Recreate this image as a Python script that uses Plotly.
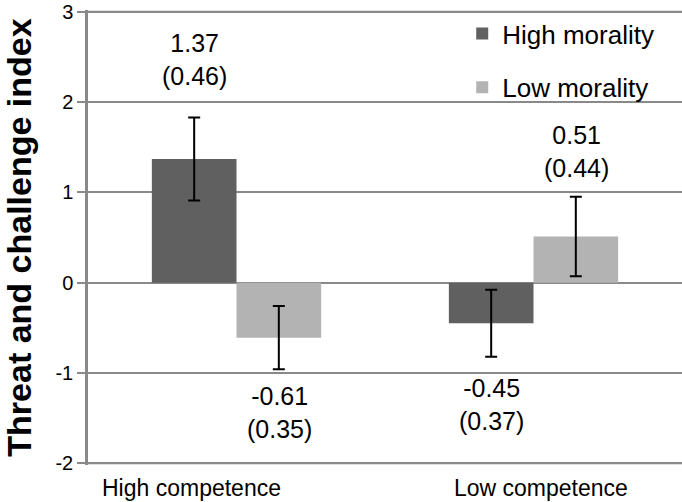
import plotly.graph_objects as go

categories = ["High competence", "Low competence"]
series_names = ["High morality", "Low morality"]
high_morality = [1.37, -0.45]
low_morality = [-0.61, 0.51]
high_morality_se = [0.46, 0.37]
low_morality_se = [0.35, 0.44]
y_ticks = [-2, -1, 0, 1, 2, 3]
y_tick_labels = ["-2", "-1", "0", "1", "2", "3"]

dark = "#606060"
light = "#b3b3b3"
grid = "#898989"
font = "Liberation Sans, Arial, sans-serif"

fig = go.Figure()
for name, vals, ses, col in [
    (series_names[0], high_morality, high_morality_se, dark),
    (series_names[1], low_morality, low_morality_se, light),
]:
    fig.add_trace(go.Bar(
        x=categories, y=vals, name=name, legendgroup=name,
        marker=dict(color=col, line=dict(width=0)),
        error_y=dict(type="data", array=ses, visible=True, color="black",
                     thickness=2, width=6),
    ))

# value labels with SE in parentheses (label block centre, in data units)
label_y = {(0, 0): 2.47, (1, 0): -1.35, (0, 1): -1.44, (1, 1): 1.45}
for si, (vals, ses) in enumerate([(high_morality, high_morality_se), (low_morality, low_morality_se)]):
    for ci, cat in enumerate(categories):
        fig.add_annotation(
            x=cat, y=label_y[(ci, si)], xref="x", yref="y",
            text=f"{vals[ci]:.2f}<br>({ses[ci]:.2f})",
            showarrow=False, xshift=(-42.5 if si == 0 else 42.5),
            font=dict(family=font, size=25, color="black"),
        )

# category labels
for ci, cat in enumerate(categories):
    fig.add_annotation(
        x=cat, y=0, xref="x", yref="paper", yanchor="top", yshift=-8,
        text=cat, showarrow=False, xshift=(-45 if ci == 0 else 7),
        font=dict(family=font, size=23, color="black"),
    )

# gridlines at the two ends of the value axis
for v in (y_ticks[0], y_ticks[-1]):
    fig.add_hline(y=v, line=dict(color=grid, width=2), layer="below")

fig.update_layout(
    width=682, height=502,
    margin=dict(l=88, r=0, t=10, b=37),
    paper_bgcolor="white", plot_bgcolor="white",
    barmode="group", bargap=0.43, bargroupgap=0,
    font=dict(family=font, size=20, color="black"),
    showlegend=True,
    legend=dict(x=0.63, y=1.0, xanchor="left", yanchor="top",
                traceorder="grouped", tracegroupgap=17,
                font=dict(family=font, size=26, color="black"),
                bgcolor="rgba(0,0,0,0)"),
    xaxis=dict(showticklabels=False, showgrid=False, zeroline=False,
               showline=False, ticks=""),
    yaxis=dict(range=[-2.02, 3.02], tickvals=y_ticks, ticktext=y_tick_labels,
               ticklabeloverflow="allow", showgrid=True,
               gridcolor=grid, gridwidth=2, zeroline=True,
               zerolinecolor=grid, zerolinewidth=2,
               showline=True, linecolor=grid, linewidth=2.5,
               ticks="outside", ticklen=8, tickcolor=grid, tickwidth=2,
               tickfont=dict(family=font, size=20, color="black"),
               title=dict(text="<b>Threat and challenge index</b>",
                          font=dict(family=font, size=34, color="black"),
                          standoff=27)),
)

fig.write_html("out.html",
               config={"displayModeBar": False},
               post_script="document.body.style.margin='0';document.body.style.overflow='hidden';")
